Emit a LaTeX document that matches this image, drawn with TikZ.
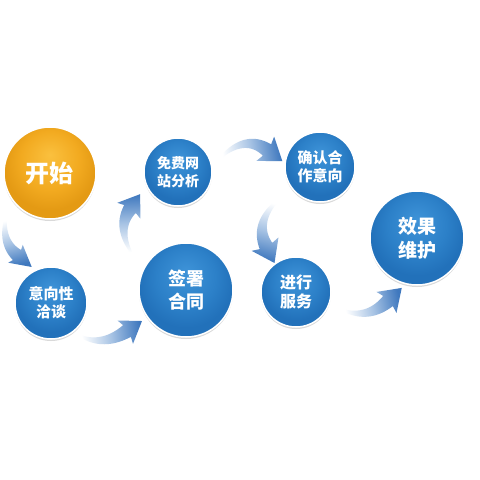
\documentclass[tikz,border=0pt]{standalone}
\usepackage{fontspec}
\newfontfamily\cjk{Noto Sans CJK SC}
\usetikzlibrary{shadows,calc}
\definecolor{bubhi}{HTML}{3E93D8}
\definecolor{bubmid}{HTML}{2C80C8}
\definecolor{bublo}{HTML}{2271BA}
\definecolor{orhi}{HTML}{FAC03E}
\definecolor{ormid}{HTML}{F2AA20}
\definecolor{orlo}{HTML}{E49A14}
\definecolor{arrowblue}{HTML}{3F78BE}
\definecolor{arrowmid}{HTML}{A7C3E4}
\pgfdeclareradialshading{bluebub}{\pgfpoint{0bp}{10bp}}{color(0bp)=(bubhi); color(16bp)=(bubmid); color(25bp)=(bublo); color(50bp)=(bublo)}
\pgfdeclareradialshading{orangebub}{\pgfpoint{0bp}{10bp}}{color(0bp)=(orhi); color(16bp)=(ormid); color(25bp)=(orlo); color(50bp)=(orlo)}
\newcommand\farrow[9]{%
\begin{scope}[declare function={
 bx(\t)=(1-\t)*(1-\t)*#1+2*\t*(1-\t)*#3+\t*\t*#5;
 by(\t)=(1-\t)*(1-\t)*#2+2*\t*(1-\t)*#4+\t*\t*#6;
 ex(\t)=2*(1-\t)*(#3-#1)+2*\t*(#5-#3);
 ey(\t)=2*(1-\t)*(#4-#2)+2*\t*(#6-#4);
 hw(\t)=#7*(0.15+0.85*\t);
 nx(\t)=-ey(\t)/veclen(ex(\t),ey(\t));
 ny(\t)=ex(\t)/veclen(ex(\t),ey(\t));
}]
\pgfmathsetmacro\ux{(#5-#3)/veclen(#5-#3,#6-#4)}
\pgfmathsetmacro\uy{(#6-#4)/veclen(#5-#3,#6-#4)}
\pgfmathsetmacro\ang{atan2(-(#5-#1),-(#6-#2))}
\shade[top color=arrowblue, bottom color=white, middle color=arrowmid, shading angle=\ang]
 plot[domain=0:1,samples=30,variable=\t] ({bx(\t)+hw(\t)*nx(\t)},{by(\t)+hw(\t)*ny(\t)})
 -- ({#5-#8*\uy-0.3*#7*\ux},{#6+#8*\ux-0.3*#7*\uy})
 -- ({#5+#9*\ux},{#6+#9*\uy})
 -- ({#5+#8*\uy-0.3*#7*\ux},{#6-#8*\ux-0.3*#7*\uy})
 -- plot[domain=1:0,samples=30,variable=\t] ({bx(\t)-hw(\t)*nx(\t)},{by(\t)-hw(\t)*ny(\t)})
 -- cycle;
\end{scope}}
\tikzset{
 bubbase/.style={circle, draw=white, line width=1.5pt, shade, shading=bluebub, text=white, align=center, inner sep=0pt,
   drop shadow={shadow xshift=0pt, shadow yshift=-2pt, opacity=0.15, fill=black}},
 bub/.style n args={3}{bubbase, minimum size=#1, font=\cjk\bfseries\fontsize{#2}{#3}\selectfont},
}
\begin{document}
\begin{tikzpicture}[x=1pt,y=-1pt]
\useasboundingbox[fill=white] (0,0) rectangle (480,480);
% arrows
\farrow{6}{216}{1}{242}{17}{255}{6.5}{11.5}{19}
\farrow{80}{336}{103}{347}{127}{331}{7}{14}{18}
\farrow{131}{252}{117}{228}{130}{209}{7}{14}{18}
\farrow{220}{158}{245}{134}{267}{150}{7}{15}{19}
\farrow{279}{199}{254}{222}{266}{246}{7}{15}{19}
\farrow{342}{310}{368}{320}{388}{301}{7}{14.5}{19}
% bubbles
\node[bub={92pt}{24}{28}, shading=orangebub] (start) at (50,173) {开始};
\node[bub={72pt}{15}{18}] (talk) at (51,303) {意向性\\洽谈};
\node[bub={94pt}{18}{23}] (sign) at (186,290) {签署\\合同};
\node[bub={68pt}{14}{18}] (free) at (178,172) {免费网\\站分析};
\node[bub={70pt}{15}{18}] (confirm) at (320,167) {确认合\\作意向};
\node[bub={70pt}{16}{19}] (serve) at (296,292) {进行\\服务};
\node[bub={94pt}{19}{24}] (effect) at (417,238) {效果\\维护};
\end{tikzpicture}
\end{document}
